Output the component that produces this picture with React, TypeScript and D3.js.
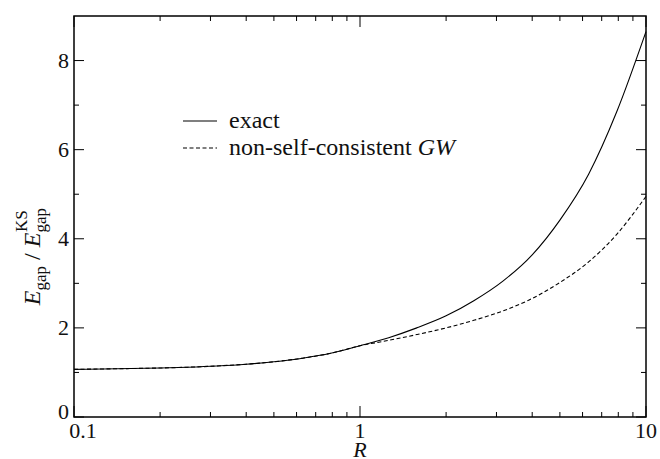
import * as d3 from "d3";

// R values (log axis) and the two gap ratios
const rValues = [0.1, 0.126, 0.158, 0.2, 0.25, 0.316, 0.4, 0.5, 0.63, 0.79, 1, 1.26, 1.58, 2, 2.5, 3.16, 4, 5, 6.3, 7.9, 10];
const exactRatio = [1.07, 1.078, 1.088, 1.1, 1.118, 1.145, 1.185, 1.24, 1.32, 1.43, 1.6, 1.78, 2.0, 2.27, 2.61, 3.05, 3.64, 4.42, 5.45, 6.85, 8.65];
const gwRatio = [1.07, 1.078, 1.088, 1.1, 1.118, 1.145, 1.185, 1.24, 1.32, 1.43, 1.6, 1.72, 1.85, 2.0, 2.17, 2.38, 2.66, 3.02, 3.48, 4.1, 4.95];

const yMajor = [0, 2, 4, 6, 8];
const yMinor = [1, 3, 5, 7];
const xMajor = [0.1, 1, 10];
const xMinor = [0.2, 0.3, 0.4, 0.5, 0.6, 0.7, 0.8, 0.9, 2, 3, 4, 5, 6, 7, 8, 9];

const legendLabels = ["exact", "non-self-consistent "];

const W = 660;
const H = 459;
const m = { left: 74, right: 14, top: 16, bottom: 42 };
const FONT = "Liberation Serif, Times New Roman, Times, DejaVu Serif, serif";

export default function App() {
  const x = d3.scaleLog().domain([0.1, 10]).range([m.left, W - m.right]);
  const y = d3.scaleLinear().domain([0, 9]).range([H - m.bottom, m.top]);

  const line = d3
    .line<number>()
    .x((_, i) => x(rValues[i]))
    .y((d) => y(d))
    .curve(d3.curveMonotoneX);

  const x0 = m.left;
  const x1 = W - m.right;
  const y0 = H - m.bottom;
  const y1 = m.top;

  return (
    <svg
      width={W}
      height={H}
      style={{ position: "absolute", left: 0, top: 0, background: "#fff" }}
    >
      {/* ticks on all four sides */}
      <g stroke="#000" strokeWidth={1}>
        {yMajor.map((v) => (
          <g key={"ym" + v}>
            <line x1={x0} x2={x0 + 10} y1={y(v)} y2={y(v)} />
            <line x1={x1} x2={x1 - 10} y1={y(v)} y2={y(v)} />
          </g>
        ))}
        {yMinor.map((v) => (
          <g key={"yn" + v}>
            <line x1={x0} x2={x0 + 5} y1={y(v)} y2={y(v)} />
            <line x1={x1} x2={x1 - 5} y1={y(v)} y2={y(v)} />
          </g>
        ))}
        {xMajor.map((v) => (
          <g key={"xm" + v}>
            <line x1={x(v)} x2={x(v)} y1={y0} y2={y0 - 11} />
            <line x1={x(v)} x2={x(v)} y1={y1} y2={y1 + 11} />
          </g>
        ))}
        {xMinor.map((v) => (
          <g key={"xn" + v}>
            <line x1={x(v)} x2={x(v)} y1={y0} y2={y0 - 5} />
            <line x1={x(v)} x2={x(v)} y1={y1} y2={y1 + 5} />
          </g>
        ))}
      </g>

      {/* curves */}
      <path d={line(exactRatio) ?? ""} fill="none" stroke="#000" strokeWidth={1.1} />
      <path d={line(gwRatio) ?? ""} fill="none" stroke="#000" strokeWidth={1.1} strokeDasharray="4,2.5" />

      <rect x={x0} y={y1} width={x1 - x0} height={y0 - y1} fill="none" stroke="#000" strokeWidth={1.5} />

      {/* tick labels */}
      <g fontSize={22} fill="#111" fontFamily={FONT}>
        {yMajor.map((v) => (
          <text key={"yl" + v} x={x0 - 5} y={y(v) + (v === 0 ? 2 : 7)} textAnchor="end">
            {v}
          </text>
        ))}
        {xMajor.map((v, i) => (
          <text key={"xl" + v} x={x(v) + (i === 0 ? 9 : 0)} y={y0 + 21} textAnchor="middle">
            {v}
          </text>
        ))}
      </g>

      {/* axis titles */}
      <text x={x(1)} y={H - 2} fontSize={22} fontStyle="italic" textAnchor="middle" fill="#111" fontFamily={FONT}>
        R
      </text>
      <text
        transform={`translate(40, ${y(3.6)}) rotate(-90)`}
        fontSize={24}
        textAnchor="middle"
        fill="#111"
        fontFamily={FONT}
      >
        <tspan fontStyle="italic">E</tspan>
        <tspan fontSize={17} dy={6}>gap</tspan>
        <tspan dy={-6}>{"\u00a0/\u00a0"}</tspan>
        <tspan fontStyle="italic">E</tspan>
        <tspan fontSize={17} dy={6}>gap</tspan>
        <tspan fontSize={17} dx={-24} dy={-19}>KS</tspan>
      </text>

      {/* legend */}
      <g fontSize={24} fill="#111" fontFamily={FONT}>
        <line x1={183} x2={217} y1={121} y2={121} stroke="#000" strokeWidth={1.1} />
        <text x={229} y={128}>{legendLabels[0]}</text>
        <line x1={183} x2={217} y1={148} y2={148} stroke="#000" strokeWidth={1.1} strokeDasharray="4,2.5" />
        <text x={229} y={155}>
          {legendLabels[1]}
          <tspan fontStyle="italic">GW</tspan>
        </text>
      </g>
    </svg>
  );
}
